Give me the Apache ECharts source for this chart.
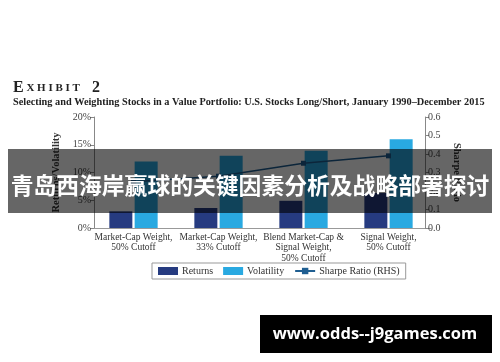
<!DOCTYPE html>
<html><head><meta charset="utf-8">
<script src="https://cdn.jsdelivr.net/npm/echarts@6/dist/echarts.min.js"></script>
<style>html,body{margin:0;padding:0;background:#fff}#c{width:500px;height:362px}</style>
</head><body><div id="c"></div>
<script>
var categories = ['Market-Cap Weight,\n50% Cutoff', 'Market-Cap Weight,\n33% Cutoff', 'Blend Market-Cap &\nSignal Weight,\n50% Cutoff', 'Signal Weight,\n50% Cutoff'];
var returns = [3.0, 3.6, 4.9, 6.3];
var volatility = [12.0, 13.0, 13.9, 16.0];
var sharpe = [0.25, 0.28, 0.35, 0.39];
var leftTicks = [0, 5, 10, 15, 20];
var rightTicks = [0, 0.1, 0.2, 0.3, 0.4, 0.5, 0.6];

var serif = 'Liberation Serif';
var chart = echarts.init(document.getElementById('c'), null, {renderer: 'canvas'});
chart.setOption({
  animation: false,
  textStyle: {fontFamily: serif},
  title: [{
    left: 8, top: 75,
    text: '{a|E}{b| X H I B I T}{a|   2}',
    textStyle: {rich: {
      a: {fontFamily: serif, fontSize: 16, color: '#222', fontWeight: 'bold'},
      b: {fontFamily: serif, fontSize: 11, color: '#222', fontWeight: 'bold'}
    }}
  }, {
    left: 8, top: 92,
    text: 'Selecting and Weighting Stocks in a Value Portfolio: U.S. Stocks Long/Short, January 1990\u2013December 2015',
    textStyle: {fontFamily: serif, fontSize: 10.3, fontWeight: 'bold', color: '#222'}
  }],
  legend: {
    left: 152, top: 263, orient: 'horizontal',
    itemWidth: 20, itemHeight: 8, itemGap: 10,
    padding: [3, 6, 3, 6],
    borderColor: '#999', borderWidth: 1,
    textStyle: {fontFamily: serif, fontSize: 10, color: '#333', padding: [0, 0, 0, -1]},
    data: [{name: 'Returns', icon: 'rect'}, {name: 'Volatility', icon: 'rect'}, {name: 'Sharpe Ratio (RHS)'}]
  },
  grid: {left: 91, width: 340, top: 117, height: 111},
  xAxis: {
    type: 'category', data: categories,
    axisLine: {lineStyle: {color: '#999'}},
    axisTick: {show: false},
    axisLabel: {fontFamily: serif, fontSize: 9.5, color: '#333', lineHeight: 10.5, margin: 4, interval: 0}
  },
  yAxis: [{
    type: 'value', min: 0, max: 20, interval: 5, offset: -3,
    name: 'Returns/Volatility', nameLocation: 'middle', nameGap: 25, nameRotate: 90,
    nameTextStyle: {fontFamily: serif, fontSize: 10.5, fontWeight: 'bold', color: '#333'},
    axisLine: {show: true, lineStyle: {color: '#888'}},
    axisTick: {show: true, length: 4, lineStyle: {color: '#888'}},
    splitLine: {show: false},
    axisLabel: {fontFamily: serif, fontSize: 10, color: '#444', margin: 3, formatter: '{value}%'}
  }, {
    type: 'value', min: 0, max: 0.6, interval: 0.1, offset: -6, position: 'right',
    name: 'Sharpe Ratio', nameLocation: 'middle', nameGap: 26, nameRotate: -90,
    nameTextStyle: {fontFamily: serif, fontSize: 10.5, fontWeight: 'bold', color: '#333'},
    axisLine: {show: true, lineStyle: {color: '#888'}},
    axisTick: {show: true, length: 4, lineStyle: {color: '#888'}},
    splitLine: {show: false},
    axisLabel: {fontFamily: serif, fontSize: 10, color: '#444', margin: 3, formatter: function (v) { return v.toFixed(1); }}
  }],
  series: [{
    name: 'Returns', type: 'bar', data: returns, barWidth: 23, barGap: '10%',
    itemStyle: {color: '#263b80'}
  }, {
    name: 'Volatility', type: 'bar', data: volatility, barWidth: 23,
    itemStyle: {color: '#29a9e1'}
  }, {
    name: 'Sharpe Ratio (RHS)', type: 'line', yAxisIndex: 1, data: sharpe,
    symbol: 'rect', symbolSize: 5, lineStyle: {width: 1.5, color: '#1f5e91'},
    itemStyle: {color: '#1f5e91'}
  }],
  graphic: [{
    type: 'rect', left: 8, top: 149, shape: {width: 484, height: 64}, z: 100,
    style: {fill: 'rgba(0,0,0,0.6)'}
  }, {
    type: 'text', x: 250, y: 185, z: 101,
    style: {text: '青岛西海岸赢球的关键因素分析及战略部署探讨', fill: '#fff', font: 'bold 22.8px "Noto Sans CJK SC"', align: 'center', verticalAlign: 'middle'}
  }, {
    type: 'rect', left: 260, top: 315, shape: {width: 232, height: 38}, z: 100,
    style: {fill: '#000'}
  }, {
    type: 'text', x: 375, y: 334, z: 101,
    style: {text: 'www.odds--j9games.com', fill: '#fff', font: 'bold 16.5px "Open Sans"', align: 'center', verticalAlign: 'middle'}
  }]
});
</script></body></html>
